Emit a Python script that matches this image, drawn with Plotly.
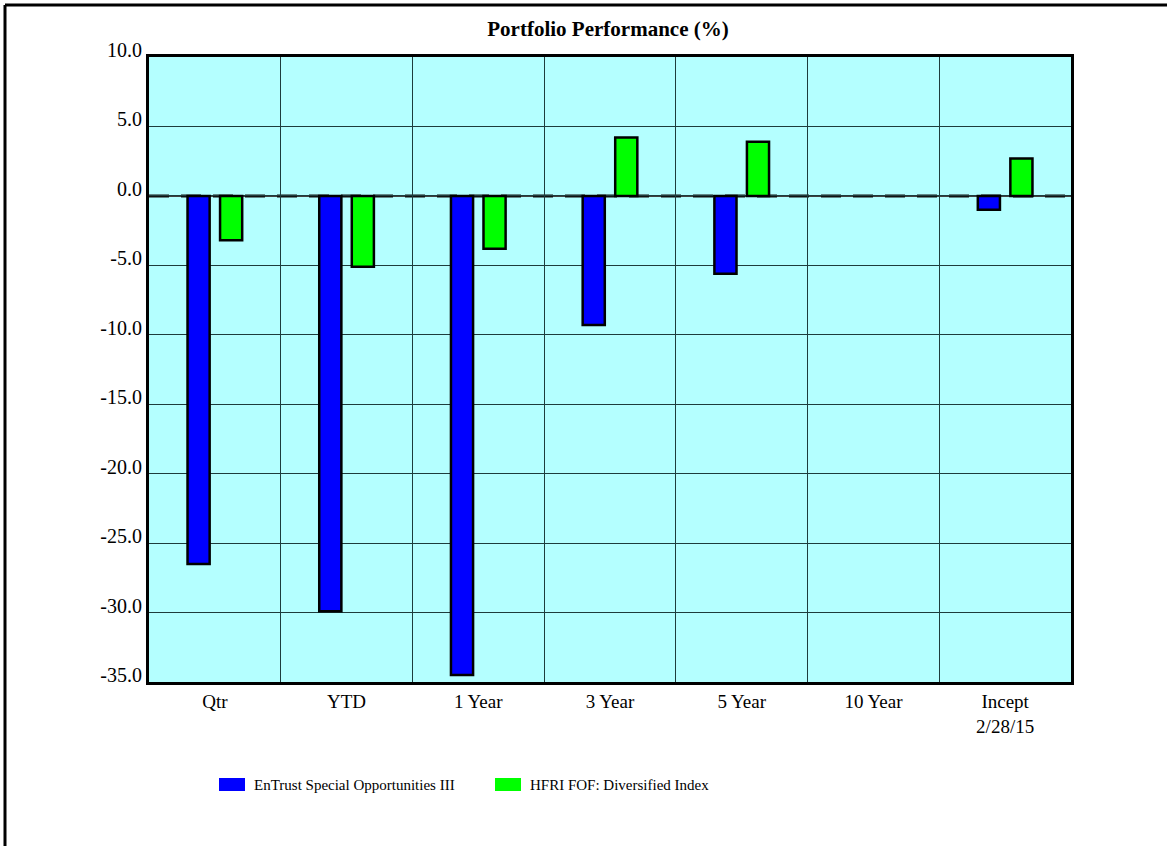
import plotly.graph_objects as go

# Return periods and annualised returns (%)
periods = ["Qtr", "YTD", "1 Year", "3 Year", "5 Year", "10 Year", "Incept<br>2/28/15"]
fund_name = "EnTrust Special Opportunities III"
index_name = "HFRI FOF: Diversified Index"
fund_returns = [-26.5, -29.9, -34.5, -9.3, -5.6, None, -1.0]
index_returns = [-3.2, -5.1, -3.8, 4.2, 3.9, None, 2.7]
y_ticks = [10, 5, 0, -5, -10, -15, -20, -25, -30, -35]
y_tick_text = ["10.0", "5.0", "0.0", "-5.0", "-10.0", "-15.0", "-20.0", "-25.0", "-30.0", "-35.0"]

fund_color = "#0000FF"
index_color = "#00FF00"
serif = "Liberation Serif, Times New Roman, serif"

W, H = 1167, 846
L, R, T, B = 149, 96, 57, 164
pw, ph = W - L - R, H - T - B


def px_x(px):
    return (px - L) / pw


def px_y(py):
    return (H - B - py) / ph


fig = go.Figure()
fig.add_trace(go.Bar(x=periods, y=fund_returns, name=fund_name,
                     marker=dict(color=fund_color, line=dict(color="black", width=2.5))))
fig.add_trace(go.Bar(x=periods, y=index_returns, name=index_name,
                     marker=dict(color=index_color, line=dict(color="black", width=2.5))))

shapes = [
    # zero line
    dict(type="line", xref="paper", yref="y", x0=0, x1=1, y0=0, y1=0,
         line=dict(color="#404040", width=2), layer="between"),
    dict(type="line", xref="paper", yref="y", x0=0, x1=1, y0=0, y1=0,
         line=dict(color="#111111", width=3, dash="20px,12px"), layer="between"),
    # page frame (top and left edges)
    dict(type="line", xref="paper", yref="paper", x0=px_x(5), x1=px_x(W + 10),
         y0=px_y(5), y1=px_y(5), line=dict(color="black", width=3)),
    dict(type="line", xref="paper", yref="paper", x0=px_x(5), x1=px_x(5),
         y0=px_y(5), y1=px_y(H + 10), line=dict(color="black", width=3)),
]

# legend drawn as swatches with labels
annotations = []
legend_items = [(fund_name, fund_color, 219), (index_name, index_color, 495)]
for name, color, x0 in legend_items:
    shapes.append(dict(type="rect", xref="paper", yref="paper",
                       x0=px_x(x0), x1=px_x(x0 + 26), y0=px_y(791), y1=px_y(778),
                       fillcolor=color, line=dict(width=0)))
    annotations.append(dict(text=name, xref="paper", yref="paper",
                            x=px_x(x0 + 33), y=px_y(785), xanchor="left", yanchor="middle",
                            showarrow=False, font=dict(family=serif, size=15, color="black")))

fig.update_layout(
    width=W, height=H,
    margin=dict(l=L, r=R, t=T, b=B),
    paper_bgcolor="white",
    plot_bgcolor="#B4FFFF",
    barmode="group",
    bargap=0.506,
    bargroupgap=0.32,
    showlegend=False,
    title=dict(text="<b>Portfolio Performance (%)</b>", xref="paper", x=px_x(608),
               xanchor="center", yref="container", y=1 - 29 / H, yanchor="middle",
               font=dict(family=serif, size=21, color="black")),
    font=dict(family=serif, size=20, color="black"),
    shapes=shapes,
    annotations=annotations,
)

fig.update_xaxes(
    type="category", tickson="boundaries", ticks="",
    showgrid=True, gridcolor="#1E3C3C", gridwidth=1,
    showline=True, linecolor="black", linewidth=3, mirror=True,
    tickfont=dict(family=serif, size=19, color="black"),
)
fig.update_yaxes(
    range=[-35, 10], tickvals=y_ticks, ticktext=y_tick_text,
    ticks="", showgrid=True, gridcolor="#1E3C3C", gridwidth=1,
    zeroline=False,
    showline=True, linecolor="black", linewidth=3, mirror=True,
    ticklabelshift=-7,
    tickfont=dict(family=serif, size=20, color="black"),
)

fig.write_html("out.html")
